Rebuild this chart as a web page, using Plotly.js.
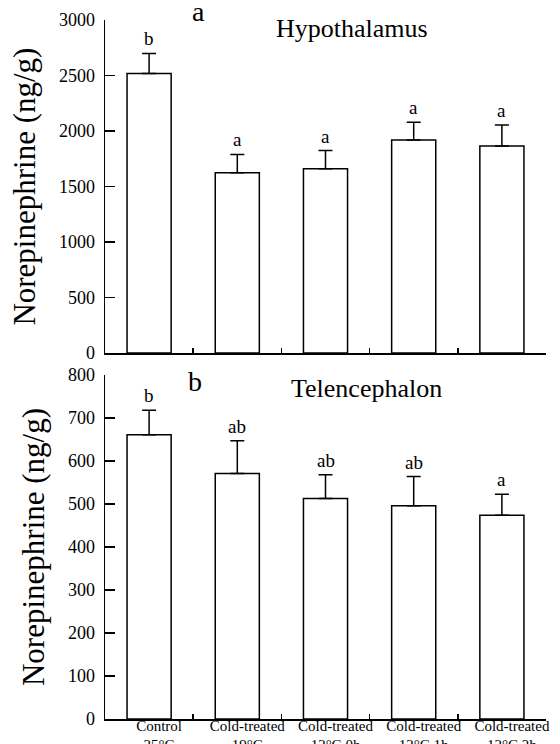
<!DOCTYPE html>
<html>
<head>
<meta charset="utf-8">
<script src="https://cdn.plot.ly/plotly-3.0.1.min.js"></script>
<style>html,body{margin:0;padding:0;background:#fff;}#chart{width:560px;height:744px;}</style>
</head>
<body>
<div id="chart"></div>
<script>
// ---- data ----
const categories = ['Control<br>25°C', 'Cold-treated<br>19°C', 'Cold-treated<br>12°C 0h', 'Cold-treated<br>12°C 1h', 'Cold-treated<br>12°C 2h'];
const hypoValues = [2520, 1625, 1660, 1920, 1865];
const hypoErrors = [180, 165, 165, 160, 190];
const hypoLetters = ['b', 'a', 'a', 'a', 'a'];
const telValues = [661, 571, 513, 496, 474];
const telErrors = [57, 76, 55, 68, 49];
const telLetters = ['b', 'ab', 'ab', 'ab', 'a'];
const hypoTicks = [0, 500, 1000, 1500, 2000, 2500, 3000];
const telTicks = [0, 100, 200, 300, 400, 500, 600, 700, 800];
const noLowerError = [0, 0, 0, 0, 0];

const FONT = 'Liberation Serif';

function barTrace(vals, errs, xa, ya) {
  return {
    type: 'bar', x: categories, y: vals, xaxis: xa, yaxis: ya,
    marker: {color: '#ffffff', line: {color: '#000000', width: 1.5}},
    error_y: {type: 'data', symmetric: false, array: errs, arrayminus: noLowerError,
              color: '#000000', thickness: 1.5, width: 7},
    showlegend: false, hoverinfo: 'none'
  };
}

const data = [
  barTrace(hypoValues, hypoErrors, 'x', 'y'),
  barTrace(telValues, telErrors, 'x2', 'y2')
];

const annotations = [];
categories.forEach((c, i) => {
  annotations.push({x: c, y: hypoValues[i] + hypoErrors[i], xref: 'x', yref: 'y', text: hypoLetters[i],
    showarrow: false, yanchor: 'bottom', yshift: 2, font: {family: FONT, size: 19, color: '#000'}});
  annotations.push({x: c, y: telValues[i] + telErrors[i], xref: 'x2', yref: 'y2', text: telLetters[i],
    showarrow: false, yanchor: 'bottom', yshift: 2, font: {family: FONT, size: 19, color: '#000'}});
});
annotations.push({xref: 'paper', yref: 'paper', x: 0.211, y: 0.984, text: 'a', showarrow: false,
  xanchor: 'center', yanchor: 'middle', font: {family: FONT, size: 28, color: '#000'}});
annotations.push({xref: 'paper', yref: 'paper', x: 0.56, y: 0.961, text: 'Hypothalamus', showarrow: false,
  xanchor: 'center', yanchor: 'middle', font: {family: FONT, size: 26, color: '#000'}});
annotations.push({xref: 'paper', yref: 'paper', x: 0.204, y: 0.469, text: 'b', showarrow: false,
  xanchor: 'center', yanchor: 'middle', font: {family: FONT, size: 28, color: '#000'}});
annotations.push({xref: 'paper', yref: 'paper', x: 0.594, y: 0.460, text: 'Telencephalon', showarrow: false,
  xanchor: 'center', yanchor: 'middle', font: {family: FONT, size: 26, color: '#000'}});

function xAxis(extra) {
  return Object.assign({
    type: 'category', showline: true, linecolor: '#000', linewidth: 1.5,
    ticks: 'inside', tickson: 'boundaries', ticklen: 5, tickwidth: 1.5, tickcolor: '#000',
    showgrid: false, zeroline: false, fixedrange: true
  }, extra);
}
function yAxis(extra) {
  return Object.assign({
    showline: true, linecolor: '#000', linewidth: 1.5,
    ticks: 'inside', ticklen: 10, tickwidth: 1.5, tickcolor: '#000',
    showgrid: false, zeroline: false, automargin: false,
    tickfont: {family: FONT, size: 18, color: '#000'},
    ticklabelstandoff: 5,
    title: {text: 'Norepinephrine (ng/g)', font: {family: FONT, size: 31, color: '#000'}, standoff: 14}
  }, extra);
}

const layout = {
  width: 560, height: 744,
  margin: {l: 105, r: 14, t: 0, b: 25},
  paper_bgcolor: '#fff', plot_bgcolor: '#fff',
  bargap: 0.5,
  font: {family: FONT, color: '#000'},
  xaxis: xAxis({domain: [0, 1], anchor: 'y', showticklabels: false}),
  yaxis: yAxis({domain: [0.509, 0.972], anchor: 'x', range: [0, 3000],
    tickvals: hypoTicks, ticktext: hypoTicks.map(String)}),
  xaxis2: xAxis({domain: [0, 1], anchor: 'y2', showticklabels: true,
    tickfont: {family: FONT, size: 15, color: '#000'}, ticklabelshift: 10, ticklabelstandoff: -8, automargin: false}),
  yaxis2: yAxis({domain: [0, 0.4784], anchor: 'x2', range: [0, 800],
    tickvals: telTicks, ticktext: telTicks.map(String)}),
  annotations: annotations
};

Plotly.newPlot('chart', data, layout, {displayModeBar: false, staticPlot: true});
</script>
</body>
</html>
